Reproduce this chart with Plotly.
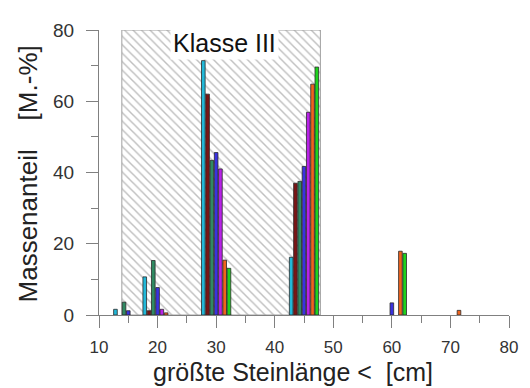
import plotly.graph_objects as go

# Data
groups = [15, 20, 30, 45, 60, 70]
series_names = ["S1", "S2", "S3", "S4", "S5", "S6", "S7"]
series_colors = ["#22b8d8", "#7a1515", "#2f8a62", "#3a32e0", "#b822e8", "#f0641e", "#1ed21e"]
cyan_vals    = [1.6, 10.7, 71.4, 16.2, None, None]
maroon_vals  = [None, 1.2, 62.0, 37.0, None, None]
dkgreen_vals = [3.6, 15.3, 43.4, 37.5, None, None]
blue_vals    = [1.2, 7.7, 45.6, 41.7, 3.4, None]
magenta_vals = [None, 1.6, 41.0, 56.9, None, None]
orange_vals  = [None, 0.6, 15.4, 64.8, 17.9, 1.3]
green_vals   = [None, None, 13.1, 69.6, 17.3, None]
series_vals = [cyan_vals, maroon_vals, dkgreen_vals, blue_vals, magenta_vals, orange_vals, green_vals]

klasse_x = [13.9, 47.8]
klasse_top = 80
klasse_label = "Klasse III"
x_ticks = [10, 20, 30, 40, 50, 60, 70, 80]
y_ticks = [0, 20, 40, 60, 80]

FONT = "Liberation Sans, Arial, sans-serif"
AX = "#808080"

# The page body has an 8px margin; size the figure so it fits the 530x388 window.
OFF = 8
W, H = 530 - OFF, 388 - OFF
L, T = 99 - OFF, 20 - OFF
R = W - (512 - OFF)
B = H - (315 - OFF)
PW, PH = W - L - R, H - T - B

def px_x(p):  # window pixel -> paper x
    return (p - OFF - L) / PW

def px_y(p):  # window pixel -> paper y
    return (H - B - (p - OFF)) / PH

fig = go.Figure()

# hatched class region (drawn first so that bars lie on top)
fig.add_trace(go.Bar(
    x=[(klasse_x[0] + klasse_x[1]) / 2], y=[klasse_top],
    width=[klasse_x[1] - klasse_x[0]],
    marker=dict(color="white",
                pattern=dict(shape="\\", fgcolor="#7f7f7f", bgcolor="white", size=6, solidity=0.24),
                line=dict(color="#a0a0a0", width=1)),
    hoverinfo="skip", showlegend=False,
))

spacing = 0.73
bw = 0.62
for i, (name, col, vals) in enumerate(zip(series_names, series_colors, series_vals)):
    fig.add_trace(go.Bar(
        x=groups, y=vals, name=name,
        offset=(i - 3) * spacing - bw / 2, width=bw,
        marker=dict(color=col, line=dict(color="#2a2a2a", width=0.8)),
        showlegend=False,
    ))

fig.add_annotation(
    x=31.4, y=76.3, xref="x", yref="y", text=klasse_label, showarrow=False,
    font=dict(family=FONT, size=25, color="#111"), bgcolor="white", borderpad=2,
)
fig.add_annotation(
    x=px_x(27), y=px_y(169), xref="paper", yref="paper",
    xanchor="center", yanchor="middle",
    text="Massenanteil    [M.-%]", textangle=-90, showarrow=False,
    font=dict(family=FONT, size=26, color="#222"),
)
fig.add_annotation(
    x=px_x(294), y=px_y(374), xref="paper", yref="paper",
    xanchor="center", yanchor="middle",
    text="größte Steinlänge <  [cm]", showarrow=False,
    font=dict(family=FONT, size=25, color="#222"),
)

fig.update_layout(
    width=W, height=H,
    margin=dict(l=L, r=R, t=T, b=B),
    plot_bgcolor="white", paper_bgcolor="white",
    barmode="overlay",
    font=dict(family=FONT, size=17, color="#333"),
    xaxis=dict(range=[10, 80], tickvals=x_ticks, showline=True, linecolor=AX, linewidth=1,
               ticks="outside", ticklen=12, tickcolor=AX, showgrid=False, zeroline=False,
               minor=dict(dtick=5, ticks="outside", ticklen=7, tickcolor=AX),
               ticklabelstandoff=5, tickfont=dict(size=17, color="#333")),
    yaxis=dict(range=[0, 80], tickvals=y_ticks, showline=True, linecolor=AX, linewidth=1,
               ticks="outside", ticklen=12, tickcolor=AX, showgrid=False, zeroline=False,
               minor=dict(dtick=10, ticks="outside", ticklen=7, tickcolor=AX),
               ticklabelstandoff=8, tickfont=dict(size=19, color="#333")),
)

fig.write_html("out.html")
